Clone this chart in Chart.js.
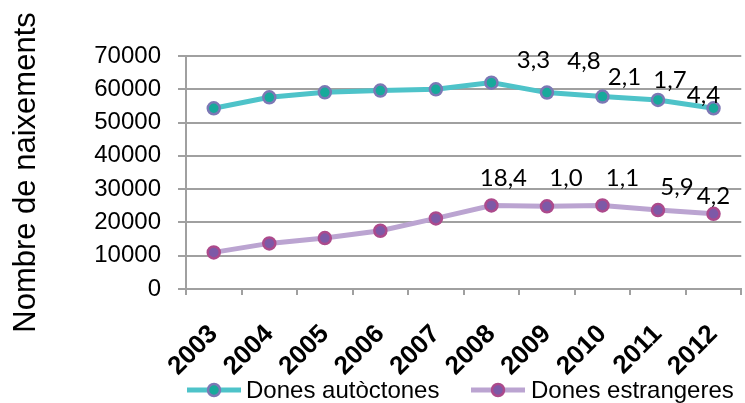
<!DOCTYPE html>
<html>
<head>
<meta charset="utf-8">
<script src="https://cdn.jsdelivr.net/npm/chart.js@4/dist/chart.umd.min.js"></script>
<style>
  html, body { margin: 0; padding: 0; background: #fff; overflow: hidden; }
  #wrap { width: 745px; height: 403px; overflow: hidden; }
</style>
</head>
<body>
<div id="wrap"><canvas id="chart" width="760" height="403"></canvas></div>
<script>
// dades
const years = ['2003', '2004', '2005', '2006', '2007', '2008', '2009', '2010', '2011', '2012'];
const autoctones = [54300, 57600, 59100, 59600, 60000, 62000, 59000, 57800, 56800, 54300];
const estrangeres = [11000, 13700, 15300, 17500, 21200, 25100, 24850, 25100, 23700, 22600];
// etiquetes de variacio (%)
const autLabels = ['', '', '', '', '', '3,3', '4,8', '2,1', '1,7', '4,4'];
const estLabels = ['', '', '', '', '', '18,4', '1,0', '1,1', '5,9', '4,2'];
const yTicks = [0, 10000, 20000, 30000, 40000, 50000, 60000, 70000];

// desplacament de cada etiqueta respecte al punt (px)
const autOffsets = [null, null, null, null, null, [42, -22], [37, -31], [22, -19], [12, -20], [-10, -13]];
const estOffsets = [null, null, null, null, null, [12, -27], [19, -28], [20, -27], [19, -23], [0, -18]];

const sans = '"Liberation Sans", Arial, sans-serif';
Chart.defaults.font.family = sans;
Chart.defaults.color = '#000';

const gridGray = '#a0a0a0';

// etiquetes de dades
const valueLabels = {
    id: 'valueLabels',
    afterDatasetsDraw(chart) {
        const ctx = chart.ctx;
        ctx.save();
        ctx.font = '24px Lato, "Open Sans", sans-serif';
        ctx.fillStyle = '#000';
        ctx.textAlign = 'center';
        ctx.textBaseline = 'middle';
        chart.data.datasets.forEach((ds, i) => {
            const meta = chart.getDatasetMeta(i);
            meta.data.forEach((pt, j) => {
                const txt = ds.valueLabels[j];
                if (!txt) return;
                const off = ds.labelOffsets[j];
                ctx.fillText(txt, pt.x + off[0], pt.y + off[1]);
            });
        });
        ctx.restore();
    }
};

// llegenda amb linia + punt
const lineLegend = {
    id: 'lineLegend',
    afterDraw(chart) {
        const ctx = chart.ctx;
        const items = [{ x0: 187, x1: 241, tx: 246 }, { x0: 471, x1: 525, tx: 531 }];
        const y = 390;
        ctx.save();
        ctx.font = '24px ' + sans;
        ctx.textBaseline = 'middle';
        ctx.textAlign = 'left';
        chart.data.datasets.forEach((ds, i) => {
            const it = items[i];
            ctx.strokeStyle = ds.borderColor;
            ctx.lineWidth = 5;
            ctx.beginPath();
            ctx.moveTo(it.x0, y);
            ctx.lineTo(it.x1, y);
            ctx.stroke();
            ctx.beginPath();
            ctx.arc((it.x0 + it.x1) / 2, y, 6, 0, Math.PI * 2);
            ctx.fillStyle = ds.pointBackgroundColor;
            ctx.fill();
            ctx.lineWidth = 2.5;
            ctx.strokeStyle = ds.pointBorderColor;
            ctx.stroke();
            ctx.fillStyle = '#000';
            ctx.fillText(ds.label, it.tx, y + 1);
        });
        ctx.restore();
    }
};

new Chart(document.getElementById('chart'), {
    type: 'line',
    data: {
        labels: years,
        datasets: [{
            label: 'Dones autòctones',
            data: autoctones,
            borderColor: '#4ec3c9',
            borderWidth: 5,
            pointBackgroundColor: '#17a99b',
            pointBorderColor: '#7c78b5',
            pointBorderWidth: 2.5,
            pointRadius: 6,
            tension: 0,
            valueLabels: autLabels,
            labelOffsets: autOffsets
        }, {
            label: 'Dones estrangeres',
            data: estrangeres,
            borderColor: '#bba4d1',
            borderWidth: 5,
            pointBackgroundColor: '#7d59a7',
            pointBorderColor: '#ac4a8c',
            pointBorderWidth: 2.5,
            pointRadius: 6,
            tension: 0,
            valueLabels: estLabels,
            labelOffsets: estOffsets
        }]
    },
    options: {
        responsive: false,
        animation: false,
        layout: { padding: { top: 56, right: 7, left: 0, bottom: 0 } },
        plugins: {
            legend: { display: false },
            tooltip: { enabled: false }
        },
        scales: {
            x: {
                offset: true,
                grid: {
                    offset: true,
                    drawOnChartArea: false,
                    drawTicks: true,
                    tickLength: 6,
                    color: gridGray,
                    lineWidth: 2
                },
                border: { color: gridGray, width: 2 },
                ticks: {
                    minRotation: 45,
                    maxRotation: 45,
                    padding: 24,
                    font: { family: sans, size: 26, weight: 'bold' },
                    color: '#000'
                },
                afterFit: (s) => { s.height = 114; }
            },
            y: {
                min: 0,
                max: 70000,
                afterBuildTicks: (s) => { s.ticks = yTicks.map(v => ({ value: v })); },
                grid: {
                    color: gridGray,
                    lineWidth: 2,
                    tickLength: 8
                },
                border: { color: gridGray, width: 2 },
                ticks: {
                    padding: 17,
                    font: { family: sans, size: 24 },
                    color: '#000',
                    callback: (v) => String(v)
                },
                title: {
                    display: true,
                    text: 'Nombre de naixements',
                    font: { family: sans, size: 31 },
                    color: '#000',
                    padding: { top: 8, bottom: 0 }
                },
                afterFit: (s) => { s.width = 186; }
            }
        }
    },
    plugins: [valueLabels, lineLegend]
});
</script>
</body>
</html>
